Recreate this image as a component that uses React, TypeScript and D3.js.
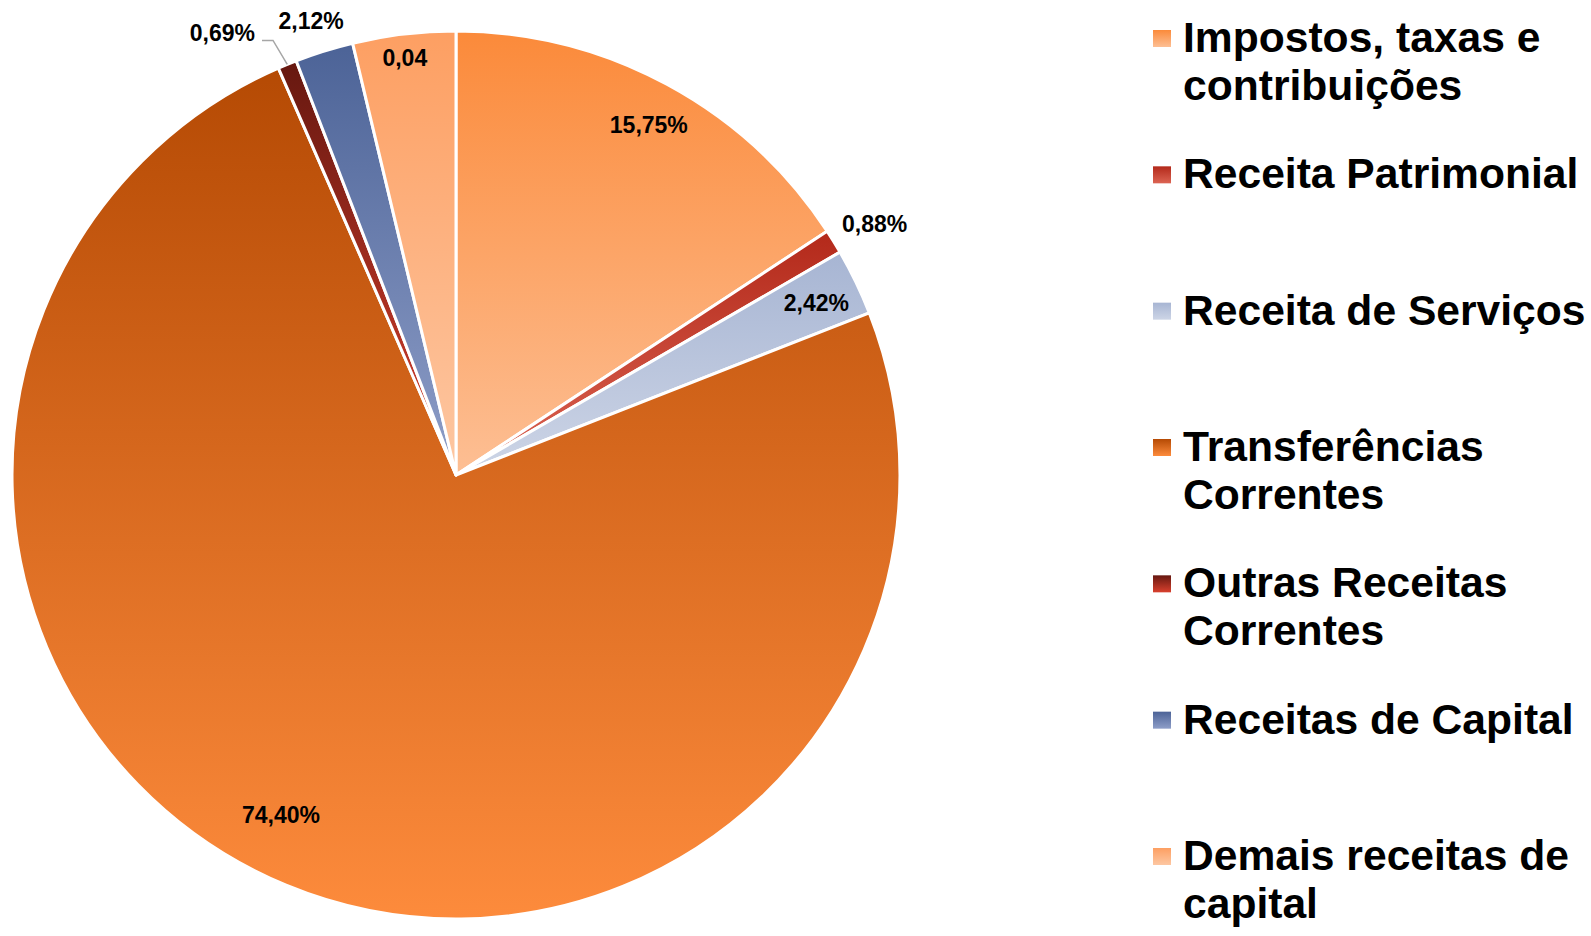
import React, { useRef, useEffect } from 'react';
import * as d3 from 'd3';

// receitas por categoria (% do total)
const categories = [
  'Impostos, taxas e contribuições',
  'Receita Patrimonial',
  'Receita de Serviços',
  'Transferências Correntes',
  'Outras Receitas Correntes',
  'Receitas de Capital',
  'Demais receitas de capital',
];
const shares = [15.75, 0.88, 2.42, 74.4, 0.69, 2.12, 3.74];
const valueLabels = ['15,75%', '0,88%', '2,42%', '74,40%', '0,69%', '2,12%', '0,04'];
const legendLines = [
  ['Impostos, taxas e', 'contribuições'],
  ['Receita Patrimonial'],
  ['Receita de Serviços'],
  ['Transferências', 'Correntes'],
  ['Outras Receitas', 'Correntes'],
  ['Receitas de Capital'],
  ['Demais receitas de', 'capital'],
];

const topColors = ['#fb8a3a', '#b3291a', '#a7b5d3', '#b54a04', '#661810', '#4c6397', '#fd9f62'];
const bottomColors = ['#fdbf94', '#dc6453', '#cdd5e6', '#fd8b3c', '#d9402e', '#8e9ec8', '#fdc7a2'];

// label placement: radius factor, angle offset (deg), leader line
const labelPlace = [
  { k: 0.9, da: 0.5, leader: false },
  { k: 1.099, da: 0.8, leader: false },
  { k: 0.9, da: 0.2, leader: false },
  { k: 0.861, da: 4.74, leader: false },
  { k: 1.0917, da: -2.03, leader: true },
  { k: 1.074, da: -0.4, leader: false },
  { k: 0.946, da: -0.27, leader: false },
];

const App = () => {
  const canvas = useRef<SVGSVGElement>(null);

  const drawChart = () => {
    const width = 1591;
    const height = 936;
    const cx = 456;
    const cy = 475;
    const radius = 444;
    const font = "'Liberation Sans', Arial, sans-serif";

    const svg = d3.select(canvas.current);
    svg.selectAll('*').remove();
    svg.attr('width', width).attr('height', height);

    const defs = svg.append('defs');
    categories.forEach((c, i) => {
      const lg = defs.append('linearGradient')
        .attr('id', `grad${i}`)
        .attr('x1', 0).attr('y1', 0).attr('x2', 0).attr('y2', 1);
      lg.append('stop').attr('offset', '0%').attr('stop-color', topColors[i]);
      lg.append('stop').attr('offset', '100%').attr('stop-color', bottomColors[i]);
    });

    const pie = d3.pie<number>().sort(null).value((d) => d);
    const arcs = pie(shares);
    const arc = d3.arc<d3.PieArcDatum<number>>().innerRadius(0).outerRadius(radius);

    const g = svg.append('g').attr('transform', `translate(${cx},${cy})`);

    g.selectAll('path.slice')
      .data(arcs)
      .enter()
      .append('path')
      .attr('class', 'slice')
      .attr('d', arc)
      .attr('fill', (d, i) => `url(#grad${i})`)
      .attr('stroke', '#ffffff')
      .attr('stroke-width', 3)
      .attr('stroke-linejoin', 'round');

    const polar = (a: number, r: number) => [Math.sin(a) * r, -Math.cos(a) * r];

    arcs.forEach((d, i) => {
      const p = labelPlace[i];
      const mid = (d.startAngle + d.endAngle) / 2;
      const [x, y] = polar(mid + (p.da * Math.PI) / 180, radius * p.k);
      if (p.leader) {
        const [ex, ey] = polar(mid, radius);
        g.append('polyline')
          .attr('points', `${ex},${ey} ${x + 17},${y + 7} ${x + 6},${y + 7}`)
          .attr('fill', 'none')
          .attr('stroke', '#a6a6a6')
          .attr('stroke-width', 1.5);
      }
      g.append('text')
        .attr('x', p.leader ? x - 1 : x)
        .attr('y', y)
        .attr('text-anchor', p.leader ? 'end' : 'middle')
        .attr('dominant-baseline', 'central')
        .attr('font-family', font)
        .attr('font-weight', 'bold')
        .attr('font-size', 23)
        .attr('fill', '#000')
        .text(valueLabels[i]);
    });

    // legend
    const ly = d3.scaleLinear().domain([0, categories.length - 1]).range([52, 870]);
    const legend = svg.append('g');
    categories.forEach((c, i) => {
      const base = ly(i);
      legend.append('rect')
        .attr('x', 1153)
        .attr('y', base - 22)
        .attr('width', 18)
        .attr('height', 17)
        .attr('fill', `url(#grad${i})`);
      const t = legend.append('text')
        .attr('font-family', font)
        .attr('font-weight', 'bold')
        .attr('font-size', 42.6)
        .attr('fill', '#000');
      legendLines[i].forEach((line, j) => {
        t.append('tspan')
          .attr('x', 1183)
          .attr('y', base + j * 47.5)
          .text(line);
      });
    });
  };

  useEffect(() => {
    drawChart();
  });

  return (
    <svg ref={canvas} style={{ position: 'absolute', left: 0, top: 0, background: '#fff' }}></svg>
  );
};

export default App;
